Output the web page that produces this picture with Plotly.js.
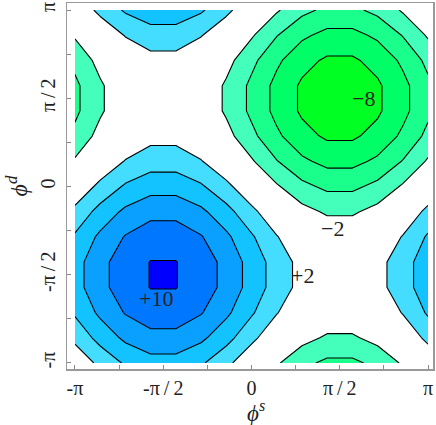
<!DOCTYPE html>
<html>
<head>
<meta charset="utf-8">
<script src="https://cdn.plot.ly/plotly-3.0.1.min.js"></script>
<style>
  html, body { margin: 0; padding: 0; background: #fff; }
  #plot { width: 436px; height: 425px; }
</style>
</head>
<body>
<div id="plot"></div>
<script>
// grid of the map (phi^s along x, phi^d along y), step pi/7
const phiS = [-3.1416, -2.6928, -2.2440, -1.7952, -1.3464, -0.8976, -0.4488, 0,
              0.4488, 0.8976, 1.3464, 1.7952, 2.2440, 2.6928, 3.1416];
const phiD = [-3.1416, -2.6928, -2.2440, -1.7952, -1.3464, -0.8976, -0.4488, 0,
              0.4488, 0.8976, 1.3464, 1.7952, 2.2440, 2.6928, 3.1416];

// values, one row per phi^d
const zVals = [
  [0.4, 2.55, 4.27, 5.23, 5.23, 4.27, 2.55, 0.4, -1.75, -3.47, -4.43, -4.43, -3.47, -1.75, 0.4],
  [2.55, 4.7, 6.42, 7.38, 7.38, 6.42, 4.7, 2.55, 0.4, -1.32, -2.28, -2.28, -1.32, 0.4, 2.55],
  [4.27, 6.42, 8.14, 9.1, 9.1, 8.14, 6.42, 4.27, 2.12, 0.4, -0.56, -0.56, 0.4, 2.12, 4.27],
  [5.23, 7.38, 9.1, 10.06, 10.06, 9.1, 7.38, 5.23, 3.08, 1.36, 0.4, 0.4, 1.36, 3.08, 5.23],
  [5.23, 7.38, 9.1, 10.06, 10.06, 9.1, 7.38, 5.23, 3.08, 1.36, 0.4, 0.4, 1.36, 3.08, 5.23],
  [4.27, 6.42, 8.14, 9.1, 9.1, 8.14, 6.42, 4.27, 2.12, 0.4, -0.56, -0.56, 0.4, 2.12, 4.27],
  [2.55, 4.7, 6.42, 7.38, 7.38, 6.42, 4.7, 2.55, 0.4, -1.32, -2.28, -2.28, -1.32, 0.4, 2.55],
  [0.4, 2.55, 4.27, 5.23, 5.23, 4.27, 2.55, 0.4, -1.75, -3.47, -4.43, -4.43, -3.47, -1.75, 0.4],
  [-1.75, 0.4, 2.12, 3.08, 3.08, 2.12, 0.4, -1.75, -3.9, -5.62, -6.58, -6.58, -5.62, -3.9, -1.75],
  [-3.47, -1.32, 0.4, 1.36, 1.36, 0.4, -1.32, -3.47, -5.62, -7.34, -8.3, -8.3, -7.34, -5.62, -3.47],
  [-4.43, -2.28, -0.56, 0.4, 0.4, -0.56, -2.28, -4.43, -6.58, -8.3, -9.26, -9.26, -8.3, -6.58, -4.43],
  [-4.43, -2.28, -0.56, 0.4, 0.4, -0.56, -2.28, -4.43, -6.58, -8.3, -9.26, -9.26, -8.3, -6.58, -4.43],
  [-3.47, -1.32, 0.4, 1.36, 1.36, 0.4, -1.32, -3.47, -5.62, -7.34, -8.3, -8.3, -7.34, -5.62, -3.47],
  [-1.75, 0.4, 2.12, 3.08, 3.08, 2.12, 0.4, -1.75, -3.9, -5.62, -6.58, -6.58, -5.62, -3.9, -1.75],
  [0.4, 2.55, 4.27, 5.23, 5.23, 4.27, 2.55, 0.4, -1.75, -3.47, -4.43, -4.43, -3.47, -1.75, 0.4]
];

// one colour per band: <-8, -8..-6, ..., 8..10, >10
const bandColors = ['#00ff22', '#00ff66', '#1aff8c', '#44ffbb', '#ffffff', '#ffffff',
                    '#44ddff', '#13c3ff', '#0aa0ff', '#0077ff', '#0000ff'];

// axis ticks (thin spaces mimic the math spacing of the original)
const tickVals = [-Math.PI, -Math.PI / 2, 0, Math.PI / 2, Math.PI];
const xTickText = ['-π', '-π\u2009/\u20092', '0', 'π\u2009/\u20092', 'π'];
const yTickText = ['-π', '-π\u2009/\u20092', '0', 'π\u2009/\u20092', 'π'];
const minorVals = [-3 * Math.PI / 4, -Math.PI / 4, Math.PI / 4, 3 * Math.PI / 4];

// contour value labels
const labelText = ['+10', '+2', '−2', '−8'];
const labelX = [-1.70, 0.67, 1.45, 2.00];
const labelY = [-1.99, -1.58, -0.74, 1.56];
const labelAnchor = ['center', 'left', 'center', 'center'];

const serif = "'Liberation Serif', 'DejaVu Serif', serif";

const colorscale = bandColors.map((c, i) => [i / (bandColors.length - 1), c]);

const fill = {
  type: 'contour',
  x: phiS, y: phiD, z: zVals,
  autocontour: false,
  contours: { start: -8, end: 10, size: 2, coloring: 'fill', showlines: false },
  colorscale: colorscale,
  showscale: false,
  line: { smoothing: 0, width: 0 },
  hoverinfo: 'skip'
};

function lineTrace(start, end) {
  return {
    type: 'contour',
    x: phiS, y: phiD, z: zVals,
    autocontour: false,
    contours: { start: start, end: end, size: 2, coloring: 'none' },
    line: { color: '#000', width: 1.1, smoothing: 0 },
    showscale: false,
    hoverinfo: 'skip'
  };
}

const annotations = labelText.map((t, i) => ({
  x: labelX[i], y: labelY[i], xref: 'x', yref: 'y',
  text: t, showarrow: false, xanchor: labelAnchor[i], yanchor: 'middle',
  font: { family: serif, size: 22, color: '#222' }
}));

// x-axis title placed a little lower than plotly's default spot
annotations.push({
  x: 0.516, y: -0.116, xref: 'paper', yref: 'paper',
  text: '<i>ϕ</i><sup><i>s</i></sup>', showarrow: false, xanchor: 'center', yanchor: 'middle',
  font: { family: serif, size: 23, color: '#222' }
});

const axisCommon = {
  showgrid: false, zeroline: false,
  showline: true, mirror: true, linecolor: '#999', linewidth: 1.5,
  ticks: 'inside', ticklen: 4, tickcolor: '#888', tickwidth: 1,
  tickmode: 'array', tickvals: tickVals,
  minor: { tickmode: 'array', tickvals: minorVals, ticks: 'inside', ticklen: 4, tickcolor: '#888', showgrid: false },
  tickfont: { family: serif, size: 20, color: '#222' }
};

const layout = {
  width: 436, height: 425,
  margin: { l: 67, r: 3, t: 3, b: 56 },
  paper_bgcolor: '#fff', plot_bgcolor: '#fff',
  showlegend: false,
  xaxis: Object.assign({}, axisCommon, {
    range: [-Math.PI - 0.142, Math.PI + 0.089],
    ticktext: xTickText,
    ticklabelstandoff: 0
  }),
  yaxis: Object.assign({}, axisCommon, {
    range: [-Math.PI - 0.107, Math.PI + 0.125],
    ticktext: yTickText,
    tickangle: -90,
    ticklabelstandoff: 3,
    title: { text: '<i>ϕ</i><sup><i>d</i></sup>', font: { family: serif, size: 24, color: '#222' }, standoff: 2 }
  }),
  annotations: annotations
};

Plotly.newPlot('plot', [fill, lineTrace(-8, -2), lineTrace(2, 10)], layout, { displayModeBar: false, staticPlot: true });
</script>
</body>
</html>
